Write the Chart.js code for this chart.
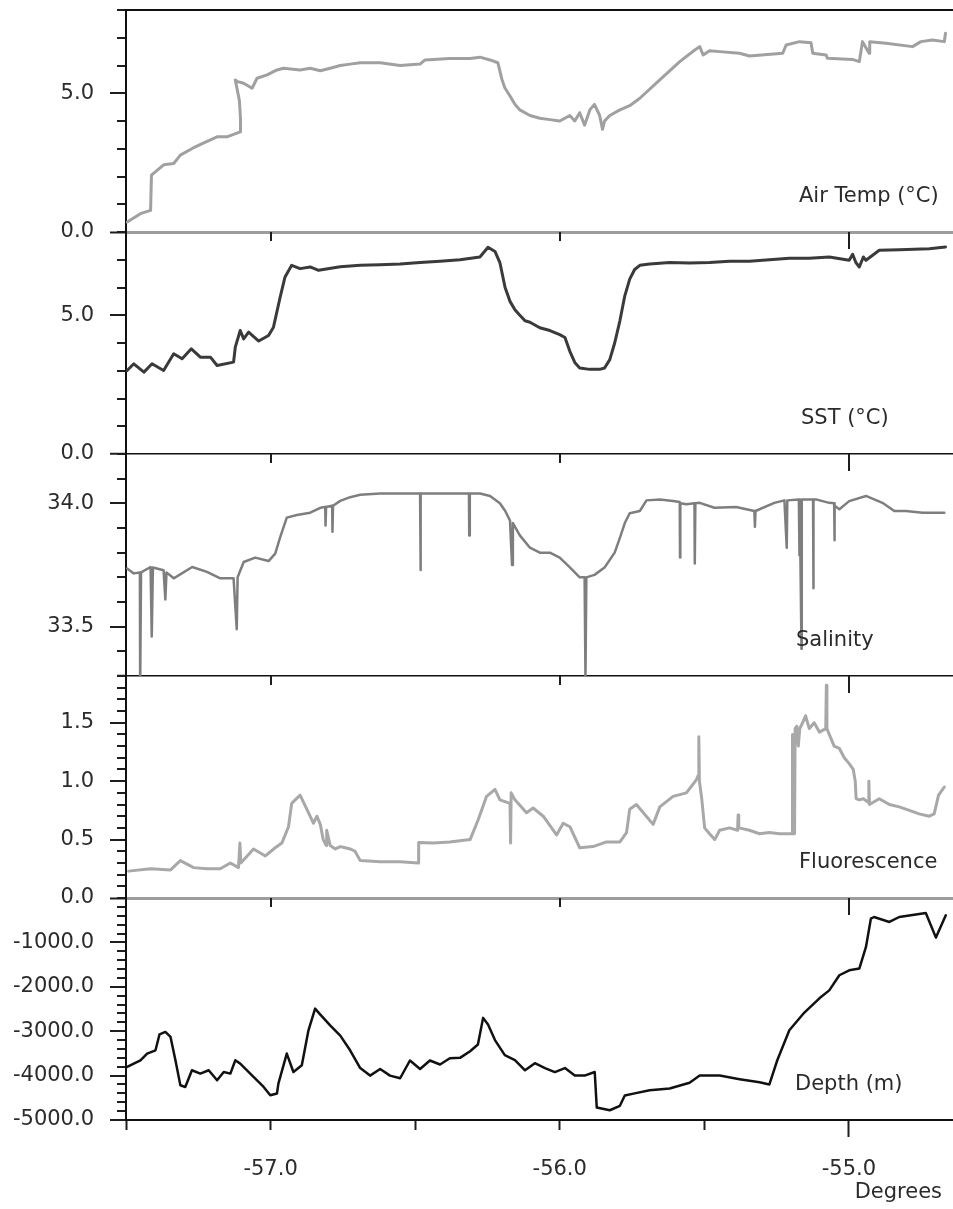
<!DOCTYPE html>
<html>
<head>
<meta charset="utf-8">
<title>Underway record</title>
<script src="https://cdn.jsdelivr.net/npm/chart.js@4.4.1/dist/chart.umd.min.js"></script>
<style>
    body { margin: 0; background: #fff; }
    canvas { display: block; }
</style>
</head>
<body>
<canvas id="track" width="953" height="1209"></canvas>
<script>
// longitude along the track (degrees) and the readings at each fix
const airLon = [
    -57.496, -57.450, -57.415, -57.412, -57.370, -57.335, -57.312, -57.271, -57.231, -57.185,
    -57.151, -57.105, -57.104, -57.108, -57.122, -57.114, -57.093, -57.064, -57.047, -57.012,
    -56.978, -56.955, -56.898, -56.863, -56.828, -56.794, -56.759, -56.725, -56.690, -56.621,
    -56.552, -56.483, -56.466, -56.380, -56.310, -56.276, -56.241, -56.214, -56.200, -56.190,
    -56.172, -56.155, -56.138, -56.103, -56.069, -56.034, -56.000, -55.965, -55.948, -55.931,
    -55.914, -55.896, -55.880, -55.862, -55.852, -55.845, -55.827, -55.792, -55.758, -55.723,
    -55.654, -55.585, -55.533, -55.516, -55.504, -55.482, -55.447, -55.378, -55.344, -55.229,
    -55.217, -55.171, -55.131, -55.125, -55.079, -55.074, -54.988, -54.964, -54.953, -54.930,
    -54.928, -54.872, -54.780, -54.751, -54.711, -54.670, -54.666
];
const airTemp = [
    0.36, 0.66, 0.78, 2.05, 2.42, 2.47, 2.77, 3.01, 3.21, 3.43,
    3.43, 3.61, 4.09, 4.75, 5.48, 5.42, 5.36, 5.18, 5.54, 5.66,
    5.84, 5.90, 5.84, 5.90, 5.81, 5.90, 6.00, 6.05, 6.10, 6.10,
    6.00, 6.05, 6.20, 6.25, 6.25, 6.30, 6.20, 6.10, 5.50, 5.20,
    4.90, 4.60, 4.40, 4.20, 4.10, 4.05, 4.00, 4.20, 4.00, 4.30,
    3.85, 4.40, 4.60, 4.20, 3.70, 4.00, 4.20, 4.40, 4.55, 4.82,
    5.48, 6.14, 6.56, 6.68, 6.38, 6.53, 6.50, 6.44, 6.34, 6.44,
    6.74, 6.86, 6.82, 6.44, 6.38, 6.26, 6.22, 6.14, 6.86, 6.44,
    6.86, 6.80, 6.68, 6.86, 6.92, 6.86, 7.16
];

const sstLon = [
    -57.496, -57.473, -57.438, -57.410, -57.370, -57.335, -57.306, -57.274, -57.243, -57.208,
    -57.185, -57.128, -57.122, -57.105, -57.093, -57.076, -57.041, -57.007, -56.990, -56.967,
    -56.950, -56.927, -56.898, -56.863, -56.834, -56.759, -56.690, -56.621, -56.552, -56.483,
    -56.414, -56.345, -56.276, -56.248, -56.224, -56.207, -56.189, -56.172, -56.155, -56.138,
    -56.120, -56.103, -56.069, -56.034, -56.000, -55.982, -55.965, -55.948, -55.931, -55.896,
    -55.862, -55.845, -55.827, -55.810, -55.792, -55.775, -55.758, -55.741, -55.723, -55.689,
    -55.620, -55.551, -55.482, -55.413, -55.344, -55.275, -55.206, -55.137, -55.068, -54.999,
    -54.987, -54.976, -54.964, -54.950, -54.941, -54.895, -54.826, -54.722, -54.666
];
const sst = [
    3.01, 3.25, 2.95, 3.25, 3.01, 3.61, 3.43, 3.79, 3.49, 3.49,
    3.19, 3.31, 3.85, 4.45, 4.15, 4.39, 4.07, 4.27, 4.57, 5.65,
    6.38, 6.80, 6.68, 6.74, 6.62, 6.75, 6.80, 6.82, 6.85, 6.90,
    6.95, 7.00, 7.10, 7.45, 7.30, 6.90, 6.00, 5.50, 5.20, 5.00,
    4.80, 4.75, 4.55, 4.45, 4.30, 4.20, 3.70, 3.30, 3.10, 3.05,
    3.05, 3.10, 3.40, 4.00, 4.80, 5.70, 6.30, 6.65, 6.80, 6.85,
    6.90, 6.88, 6.90, 6.95, 6.95, 7.00, 7.05, 7.05, 7.10, 6.98,
    7.20, 6.90, 6.74, 7.10, 6.98, 7.34, 7.36, 7.40, 7.46
];

const salLon = [
    -57.496, -57.473, -57.452, -57.451, -57.448, -57.415, -57.411, -57.407, -57.370, -57.364,
    -57.360, -57.335, -57.271, -57.220, -57.174, -57.128, -57.117, -57.114, -57.093, -57.053,
    -57.007, -56.984, -56.967, -56.944, -56.909, -56.863, -56.828, -56.811, -56.810, -56.808,
    -56.787, -56.786, -56.784, -56.759, -56.725, -56.690, -56.621, -56.552, -56.483, -56.482,
    -56.480, -56.414, -56.345, -56.314, -56.313, -56.311, -56.276, -56.241, -56.207, -56.189,
    -56.172, -56.165, -56.162, -56.138, -56.103, -56.069, -56.034, -56.000, -55.965, -55.931,
    -55.914, -55.911, -55.908, -55.880, -55.845, -55.810, -55.792, -55.775, -55.758, -55.723,
    -55.700, -55.654, -55.608, -55.585, -55.584, -55.583, -55.562, -55.534, -55.533, -55.531,
    -55.516, -55.465, -55.390, -55.327, -55.325, -55.323, -55.258, -55.223, -55.215, -55.213,
    -55.173, -55.171, -55.170, -55.164, -55.163, -55.124, -55.123, -55.122, -55.114, -55.068,
    -55.051, -55.050, -55.049, -55.033, -54.999, -54.941, -54.884, -54.843, -54.803, -54.745,
    -54.670
];
const salinity = [
    33.736, 33.716, 33.720, 33.258, 33.720, 33.742, 33.460, 33.740, 33.729, 33.610,
    33.720, 33.696, 33.742, 33.722, 33.696, 33.696, 33.490, 33.700, 33.762, 33.780,
    33.766, 33.796, 33.862, 33.942, 33.953, 33.962, 33.982, 33.985, 33.910, 33.985,
    33.990, 33.885, 33.990, 34.010, 34.025, 34.035, 34.040, 34.040, 34.040, 33.730,
    34.040, 34.040, 34.040, 34.040, 33.870, 34.040, 34.040, 34.030, 34.000, 33.970,
    33.930, 33.750, 33.920, 33.870, 33.820, 33.800, 33.800, 33.780, 33.740, 33.700,
    33.700, 33.290, 33.700, 33.710, 33.740, 33.800, 33.860, 33.920, 33.960, 33.969,
    34.012, 34.016, 34.009, 34.005, 33.780, 34.000, 33.996, 34.000, 33.756, 34.000,
    34.002, 33.982, 33.985, 33.969, 33.905, 33.969, 34.002, 34.012, 33.820, 34.012,
    34.016, 33.790, 34.016, 33.410, 34.016, 34.016, 33.656, 34.016, 34.016, 34.002,
    34.000, 33.850, 33.990, 33.976, 34.009, 34.030, 34.002, 33.969, 33.969, 33.962,
    33.962
];

const fluLon = [
    -57.491, -57.415, -57.346, -57.312, -57.266, -57.220, -57.174, -57.139, -57.111, -57.106,
    -57.103, -57.088, -57.059, -57.018, -56.984, -56.961, -56.938, -56.927, -56.898, -56.869,
    -56.852, -56.840, -56.828, -56.818, -56.808, -56.806, -56.794, -56.776, -56.759, -56.742,
    -56.725, -56.708, -56.690, -56.621, -56.552, -56.490, -56.488, -56.437, -56.380, -56.310,
    -56.282, -56.253, -56.224, -56.207, -56.172, -56.170, -56.168, -56.155, -56.115, -56.092,
    -56.057, -56.011, -55.988, -55.965, -55.931, -55.885, -55.838, -55.792, -55.769, -55.758,
    -55.735, -55.677, -55.654, -55.608, -55.562, -55.528, -55.521, -55.519, -55.517, -55.509,
    -55.499, -55.482, -55.464, -55.447, -55.413, -55.385, -55.383, -55.381, -55.344, -55.309,
    -55.275, -55.240, -55.206, -55.196, -55.195, -55.193, -55.188, -55.186, -55.180, -55.175,
    -55.170, -55.160, -55.150, -55.137, -55.120, -55.102, -55.080, -55.078, -55.076, -55.068,
    -55.051, -55.033, -55.016, -54.999, -54.985, -54.978, -54.975, -54.964, -54.950, -54.933,
    -54.931, -54.929, -54.895, -54.860, -54.826, -54.791, -54.757, -54.722, -54.705, -54.690,
    -54.670
];
const fluorescence = [
    0.23, 0.25, 0.24, 0.32, 0.26, 0.25, 0.25, 0.30, 0.26, 0.47,
    0.30, 0.34, 0.42, 0.36, 0.43, 0.47, 0.61, 0.81, 0.88, 0.73,
    0.64, 0.70, 0.63, 0.50, 0.45, 0.58, 0.45, 0.42, 0.44, 0.43,
    0.42, 0.40, 0.32, 0.31, 0.31, 0.30, 0.475, 0.47, 0.48, 0.50,
    0.67, 0.87, 0.93, 0.84, 0.81, 0.47, 0.90, 0.84, 0.73, 0.77,
    0.70, 0.54, 0.64, 0.61, 0.43, 0.44, 0.48, 0.48, 0.56, 0.76,
    0.80, 0.63, 0.78, 0.87, 0.90, 1.01, 1.05, 1.38, 1.00, 0.85,
    0.60, 0.55, 0.50, 0.58, 0.60, 0.58, 0.71, 0.60, 0.58, 0.55,
    0.56, 0.55, 0.55, 0.55, 1.40, 0.55, 0.55, 1.45, 1.47, 1.30,
    1.45, 1.50, 1.56, 1.45, 1.50, 1.42, 1.45, 1.82, 1.45, 1.40,
    1.30, 1.28, 1.20, 1.15, 1.10, 1.00, 0.85, 0.84, 0.85, 0.82,
    1.00, 0.80, 0.85, 0.80, 0.78, 0.75, 0.72, 0.70, 0.72, 0.88,
    0.95
];

const depthLon = [
    -57.496, -57.450, -57.427, -57.398, -57.384, -57.364, -57.346, -57.329, -57.312, -57.295,
    -57.272, -57.243, -57.214, -57.185, -57.162, -57.139, -57.122, -57.105, -57.059, -57.024,
    -57.001, -56.978, -56.973, -56.944, -56.921, -56.892, -56.869, -56.846, -56.831, -56.794,
    -56.759, -56.725, -56.690, -56.656, -56.621, -56.587, -56.552, -56.518, -56.483, -56.449,
    -56.414, -56.380, -56.345, -56.310, -56.283, -56.265, -56.248, -56.224, -56.190, -56.155,
    -56.120, -56.086, -56.051, -56.017, -55.982, -55.948, -55.914, -55.879, -55.872, -55.827,
    -55.792, -55.775, -55.741, -55.689, -55.620, -55.551, -55.516, -55.447, -55.378, -55.309,
    -55.275, -55.248, -55.206, -55.154, -55.102, -55.068, -55.033, -54.999, -54.964, -54.941,
    -54.924, -54.913, -54.860, -54.826, -54.734, -54.699, -54.665
];
const depth = [
    -3806, -3655, -3504, -3430, -3070, -3017, -3130, -3655, -4218, -4256,
    -3880, -3955, -3880, -4105, -3918, -3955, -3655, -3730, -4031, -4256,
    -4443, -4405, -4180, -3504, -3918, -3768, -2979, -2491, -2603, -2870,
    -3100, -3430, -3830, -4000, -3850, -4000, -4060, -3660, -3850, -3660,
    -3750, -3610, -3600, -3450, -3300, -2700, -2850, -3200, -3540, -3650,
    -3880, -3720, -3830, -3920, -3830, -4000, -4000, -3920, -4720, -4780,
    -4680, -4450, -4400, -4330, -4290, -4160, -4000, -4000, -4080, -4150,
    -4200, -3660, -2980, -2580, -2260, -2080, -1740, -1628, -1590, -1103,
    -464, -428, -540, -428, -338, -892, -390
];

// labelled ticks (the rest get a short unlabelled mark)
const lonLabels = [-57, -56, -55];
const airLabels = [0, 5];
const sstLabels = [0, 5];
const salLabels = [33.5, 34];
const fluLabels = [0, 0.5, 1, 1.5];
const depthLabels = [-5000, -4000, -3000, -2000, -1000];

const font = { family: "'DejaVu Sans', sans-serif", size: 21 };
const textColor = '#2b2b2b';
const tickColor = '#1e1e1e';

const panels = [
    { axis: 'yAir', name: 'Air Temp (\u00B0C)', left: 799 },
    { axis: 'ySst', name: 'SST (\u00B0C)', left: 801 },
    { axis: 'ySal', name: 'Salinity', left: 796 },
    { axis: 'yFlu', name: 'Fluorescence', left: 799 },
    { axis: 'yDepth', name: 'Depth (m)', left: 795 }
];

function isMajor(list, v) {
    return list.some(l => Math.abs(l - v) < 1e-6);
}

function points(lon, values) {
    return lon.map((x, i) => ({ x: x, y: values[i] }));
}

// one stacked y axis per panel; "edges" are the panel border lines it owns
function panelAxis(min, max, step, labels, edges, weight) {
    const edge = v => edges.find(e => Math.abs(e.value - v) < 1e-6);
    return {
        type: 'linear',
        position: 'left',
        stack: 'track',
        stackWeight: 1,
        weight: weight,
        min: min,
        max: max,
        ticks: {
            stepSize: step,
            autoSkip: false,
            padding: 16,
            color: textColor,
            font: font,
            callback: v => isMajor(labels, v) ? v.toFixed(1) : ''
        },
        grid: {
            tickLength: 16,
            color: c => (c.tick && edge(c.tick.value)) ? edge(c.tick.value).color : 'rgba(0,0,0,0)',
            lineWidth: c => (c.tick && edge(c.tick.value)) ? edge(c.tick.value).width : 0,
            tickColor: tickColor,
            tickWidth: 2,
            // minor marks: only the inner 9px of the 16px tick is drawn
            tickBorderDash: c => (c.tick && isMajor(labels, c.tick.value)) ? [] : [9, 7],
            tickBorderDashOffset: c => (c.tick && isMajor(labels, c.tick.value)) ? 0 : 9
        },
        border: { color: '#111', width: 2 },
        afterFit: s => {
            s.width = 126;
            s.paddingTop = 0;
            s.paddingBottom = 0;
        }
    };
}

// whole-degree marks under each panel divider, panel names, axis title
const trackMarks = {
    id: 'trackMarks',
    afterDraw(chart) {
        const ctx = chart.ctx;
        const xs = chart.scales.x;
        ctx.save();
        ctx.strokeStyle = tickColor;
        ctx.lineWidth = 2;
        panels.slice(0, -1).forEach(p => {
            const s = chart.scales[p.axis];
            lonLabels.forEach(v => {
                const px = Math.round(xs.getPixelForValue(v));
                const len = v === -55 ? 17 : 9;
                ctx.beginPath();
                ctx.moveTo(px, s.bottom);
                ctx.lineTo(px, s.bottom + len);
                ctx.stroke();
            });
        });

        ctx.fillStyle = textColor;
        ctx.font = "21px 'DejaVu Sans', sans-serif";
        ctx.textBaseline = 'middle';
        ctx.textAlign = 'left';
        panels.forEach(p => {
            const s = chart.scales[p.axis];
            ctx.fillText(p.name, p.left, s.bottom - 35);
        });
        ctx.textAlign = 'right';
        ctx.fillText('Degrees', 942, xs.bottom - 16);
        ctx.restore();
    }
};

function drawTrack(ctx) {
    new Chart(ctx, {
        type: 'line',
        data: {
            datasets: [
                { data: points(airLon, airTemp), yAxisID: 'yAir', borderColor: '#a0a0a0', borderWidth: 3 },
                { data: points(sstLon, sst), yAxisID: 'ySst', borderColor: '#3a3a3a', borderWidth: 3 },
                { data: points(salLon, salinity), yAxisID: 'ySal', borderColor: '#7e7e7e', borderWidth: 2.5 },
                { data: points(fluLon, fluorescence), yAxisID: 'yFlu', borderColor: '#a8a8a8', borderWidth: 3 },
                { data: points(depthLon, depth), yAxisID: 'yDepth', borderColor: '#111', borderWidth: 2.5 }
            ]
        },
        options: {
            responsive: false,
            animation: false,
            devicePixelRatio: 1,
            layout: { padding: { top: 10, right: 0, left: 0, bottom: 0 } },
            elements: {
                point: { radius: 0 },
                line: { tension: 0, borderJoinStyle: 'round', borderCapStyle: 'round' }
            },
            plugins: {
                legend: { display: false },
                tooltip: { enabled: false }
            },
            scales: {
                x: {
                    type: 'linear',
                    position: 'bottom',
                    min: -57.5,
                    max: -54.64,
                    ticks: {
                        stepSize: 0.5,
                        includeBounds: false,
                        autoSkip: false,
                        maxRotation: 0,
                        padding: 20,
                        color: textColor,
                        font: font,
                        callback: v => isMajor(lonLabels, v) ? v.toFixed(1) : ''
                    },
                    grid: {
                        drawOnChartArea: false,
                        tickLength: 17,
                        tickColor: tickColor,
                        tickWidth: 2,
                        tickBorderDash: c => (c.tick && c.tick.value === -55) ? [] : [9, 100]
                    },
                    border: { color: '#111', width: 2 },
                    afterFit: s => { s.height = 89; }
                },
                yAir: panelAxis(0, 8, 1, airLabels,
                    [{ value: 0, color: '#9c9c9c', width: 3 }, { value: 8, color: '#111', width: 2 }], 5),
                ySst: panelAxis(0, 8, 1, sstLabels,
                    [{ value: 0, color: '#111', width: 1.5 }], 4),
                ySal: panelAxis(33.3, 34.2, 0.1, salLabels,
                    [{ value: 33.3, color: '#111', width: 1.5 }], 3),
                yFlu: panelAxis(0, 1.9, 0.1, fluLabels,
                    [{ value: 0, color: '#9c9c9c', width: 3 }], 2),
                // depth 0 sits on the fluorescence zero line, which already carries the label
                yDepth: panelAxis(-5000, 0, 200, depthLabels, [], 1)
            }
        },
        plugins: [trackMarks]
    });
}

drawTrack(document.getElementById('track'));
</script>
</body>
</html>
